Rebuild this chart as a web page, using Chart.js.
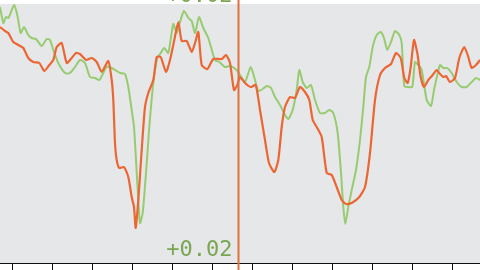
<!DOCTYPE html>
<html>
<head>
<meta charset="utf-8">
<script src="https://cdn.jsdelivr.net/npm/chart.js@4"></script>
<style>
  html, body { margin: 0; padding: 0; background: #fff; }
  #wrap { width: 480px; height: 270px; }
</style>
</head>
<body>
<div id="wrap"><canvas id="grafico"></canvas></div>
<script>
// valores (x: posicion de muestra, y: nivel)
const naranjaX = [0, 5, 8.3, 13.3, 18.3, 23.3, 28.3, 33.3, 39.3, 44.3, 49.3, 53.3, 56.7, 61.7, 66.7, 71.7, 76, 80, 86, 91.7,
  96.7, 101.7, 108.3, 111.7, 113.3, 115, 116.7, 119.3, 124, 128.3, 131.7, 134, 135.7, 138.3, 141.7, 145, 148.3, 153.3, 156.7, 160.7,
  166, 170, 174.3, 178.3, 181.7, 186.7, 191.7, 195, 198.3, 201.7, 207.3, 213.3, 221.7, 226, 230, 234, 237.3, 240, 245, 250.7,
  255.7, 260, 265, 269, 274.3, 278.3, 281.7, 285, 290, 295, 300, 305, 309.3, 312.7, 316.7, 321.7, 326.7, 331.7, 336.7, 341.7,
  346, 351.7, 359.3, 365, 370, 375, 380, 385, 391, 396, 400.7, 404.3, 407.7, 410.7, 414, 417.3, 420.7, 424, 428.3, 432.7,
  436.7, 440, 443.3, 446, 450, 455, 459.3, 464.3, 468.3, 471.7, 476, 480];
const naranjaY = [236, 232, 230, 221, 218, 215, 205, 201, 200, 192, 198, 203, 216, 220, 200, 205, 210, 209, 203, 205,
  201, 191, 202, 183, 163, 120, 103, 95, 96, 86, 66, 56, 35, 63, 113, 156, 170, 183, 206, 206,
  191, 203, 223, 241, 222, 222, 211, 220, 231, 198, 194, 204, 204, 208, 200, 173, 178, 186, 180, 176,
  178, 153, 123, 100, 91, 103, 136, 156, 166, 165, 176, 171, 163, 143, 136, 126, 90, 88, 76, 63,
  59, 60, 66, 76, 110, 163, 188, 195, 199, 210, 205, 185, 180, 196, 223, 210, 186, 176, 183, 188,
  193, 189, 186, 187, 181, 185, 205, 216, 206, 195, 198, 203];

const verdeX = [0, 3.3, 6, 8.3, 10.7, 14, 17.3, 20.7, 24, 28.3, 31.7, 36, 41.7, 46.7, 50, 53.3, 58.3, 65, 70, 75,
  80, 85, 90, 95, 99.3, 103.3, 106.7, 111.7, 116.7, 120, 125, 128.3, 131.7, 134, 136, 138.3, 140, 142.7, 146, 149.3,
  153.3, 157.3, 160.7, 164.3, 168.3, 173.3, 176.7, 180, 184, 188.3, 191.7, 195, 199, 203.3, 208.3, 215, 219.3, 225, 230, 236.7,
  240, 245, 250.7, 255, 258.3, 262.7, 266.7, 271, 275, 280, 285, 288.3, 292.7, 296.7, 299.3, 302.7, 306.7, 311, 315, 320,
  325, 329.3, 333.3, 337.7, 341, 343.3, 345.3, 348.3, 351.7, 356, 360, 363.3, 366, 369.3, 372.7, 376.7, 380.7, 384, 387.3, 391.7,
  395, 399.3, 401.7, 404.3, 408.3, 412.3, 415, 418.3, 421.7, 426.7, 431, 434, 437.3, 440, 443.3, 447.3, 451.7, 456.7, 461.7, 466.7,
  471.7, 476, 480];
const verdeY = [256, 240, 246, 245, 250, 258, 248, 230, 236, 228, 225, 224, 217, 224, 223, 213, 200, 190, 190, 196,
  203, 200, 186, 185, 183, 190, 196, 195, 192, 190, 189, 176, 153, 136, 103, 63, 40, 50, 90, 136,
  180, 205, 210, 215, 210, 239, 230, 241, 252, 245, 242, 230, 246, 235, 225, 203, 201, 196, 197, 193,
  188, 181, 196, 183, 172, 174, 177, 175, 166, 158, 148, 144, 153, 173, 193, 181, 175, 178, 163, 150,
  150, 153, 150, 130, 90, 56, 39, 56, 73, 93, 123, 156, 186, 196, 216, 228, 231, 225, 213, 223,
  232, 228, 220, 177, 176, 176, 201, 198, 193, 163, 157, 173, 188, 198, 195, 195, 190, 181, 176, 176,
  181, 185, 183];

const marcasX = [12.7, 52.7, 92.7, 132.7, 172.7, 212.7, 252.7, 292.7, 332.7, 372.7, 412.7, 452.7];
const cursorX = 238.5;
const etiquetaArriba = '+0.02';
const etiquetaAbajo = '+0.02';

const puntos = (xs, ys) => xs.map((x, i) => ({ x: x, y: ys[i] }));

// fondo gris del area, linea del cursor y etiquetas
const extras = {
    id: 'extras',
    beforeDraw(chart) {
        const { ctx, chartArea } = chart;
        ctx.save();
        ctx.fillStyle = '#e6e7e9';
        ctx.fillRect(chartArea.left, chartArea.top, chartArea.right - chartArea.left, chartArea.bottom - chartArea.top);
        ctx.restore();
    },
    afterDraw(chart) {
        const { ctx, chartArea } = chart;
        const px = chart.scales.x.getPixelForValue(cursorX);
        ctx.save();
        ctx.strokeStyle = '#e2703f';
        ctx.lineWidth = 2;
        ctx.beginPath();
        ctx.moveTo(px, 0);
        ctx.lineTo(px, chart.height);
        ctx.stroke();

        ctx.fillStyle = '#7aa553';
        ctx.font = '22px "DejaVu Sans Mono"';
        ctx.textAlign = 'right';
        ctx.textBaseline = 'alphabetic';
        // la etiqueta de arriba queda casi fuera del lienzo
        ctx.fillText(etiquetaArriba, px - 6, chartArea.top - 2);
        ctx.fillText(etiquetaAbajo, px - 6, chartArea.bottom - 7);
        ctx.restore();
    }
};

const ctx = document.getElementById('grafico').getContext('2d');
new Chart(ctx, {
    type: 'line',
    data: {
        datasets: [{
            label: 'naranja',
            data: puntos(naranjaX, naranjaY),
            borderColor: '#ec6633',
            borderWidth: 2.2,
            pointRadius: 0,
            tension: 0.2,
            fill: false
        }, {
            label: 'verde',
            data: puntos(verdeX, verdeY),
            borderColor: '#97cb70',
            borderWidth: 2,
            pointRadius: 0,
            tension: 0.2,
            fill: false
        }]
    },
    options: {
        responsive: true,
        maintainAspectRatio: false,
        animation: false,
        layout: { padding: { top: 4, left: 0, right: 0, bottom: 0 } },
        plugins: {
            legend: { display: false },
            tooltip: { enabled: false }
        },
        scales: {
            x: {
                type: 'linear',
                min: 0,
                max: 480,
                afterBuildTicks: (scale) => { scale.ticks = marcasX.map(v => ({ value: v })); },
                ticks: { display: false },
                grid: { drawOnChartArea: false, drawTicks: true, tickLength: 7, color: '#111' },
                border: { display: true, color: '#111', width: 1 }
            },
            y: {
                display: false,
                min: 0,
                max: 259
            }
        }
    },
    plugins: [extras]
});
</script>
</body>
</html>
